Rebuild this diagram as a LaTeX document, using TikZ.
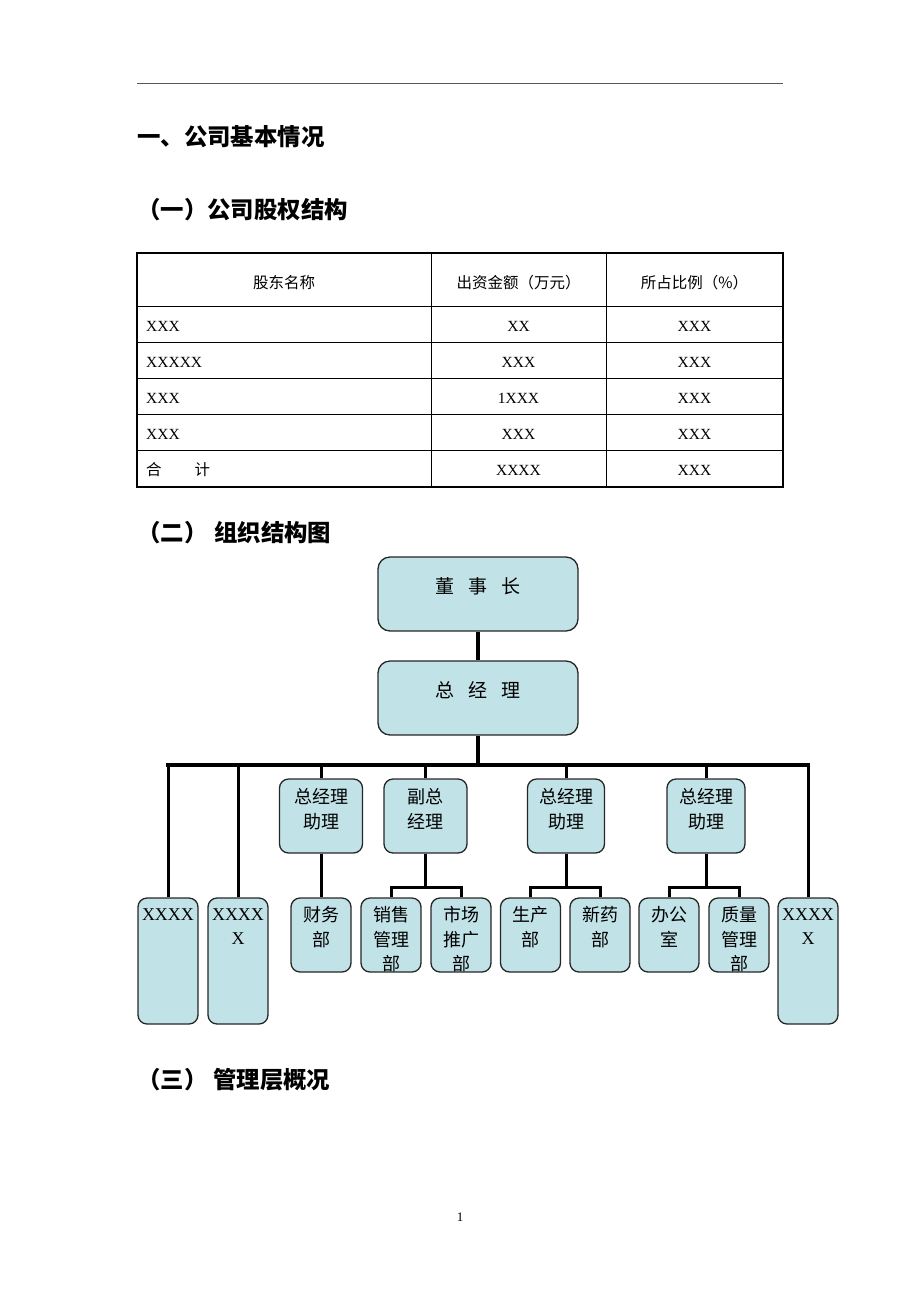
\documentclass[tikz,border=0pt]{standalone}
\usepackage{fontspec}
\setmainfont{Liberation Serif}
\newfontfamily\cjk{Noto Sans CJK SC}
\usetikzlibrary{calc}
\definecolor{boxfill}{HTML}{C1E2E6}
\begin{document}
\begin{tikzpicture}[x=1pt,y=-1pt,
  box/.style={draw=black!85, line width=1.3pt, fill=boxfill, rounded corners=9pt, inner sep=0pt},
  bigbox/.style={box, rounded corners=12pt, minimum width=200pt, minimum height=74pt},
  topbox/.style={box, minimum height=74pt},
  botbox/.style={box, minimum width=60pt, minimum height=74pt},
  tallbox/.style={box, minimum width=60pt, minimum height=126pt},
  lbl/.style={inner sep=0pt, align=center, anchor=north, font=\fontsize{18}{24.5}\selectfont},
  bigtxt/.style={inner sep=0pt, font=\cjk\fontsize{19}{19}\selectfont},
  head/.style={anchor=west, inner sep=0pt, font=\cjk\bfseries\fontsize{23.4}{23.4}\selectfont},
  cell/.style={inner sep=0pt, font=\fontsize{15.5}{15.5}\selectfont},
  conn/.style={line width=3pt},
  mainconn/.style={line width=4pt},
  busline/.style={line width=4pt, line cap=rect}]
\useasboundingbox (0,0) rectangle (920,1302);

% header rule
\draw[black!65, line width=1pt] (137,83) -- (783,83);

% headings
\node[head] (h1) at (137,137) {一、公司基本情况};
\node[head] (h2) at (137,210) {（一）公司股权结构};
\node[head] (h3) at (137,533) {（二）\hspace{7pt}组织结构图};
\node[head] (h4) at (137,1080) {（三）\hspace{6pt}管理层概况};

% table
\foreach \yy in {306,342,378,414,450} \draw[line width=1pt] (137,\yy) -- (783,\yy);
\foreach \xx in {431,606} \draw[line width=1pt] (\xx,253) -- (\xx,487);
\draw[line width=2.2pt] (137,253) rectangle (783,487);

\node[cell] (th1) at (284,283) {\cjk 股东名称};
\node[cell] (th2) at (518.5,283) {\cjk 出资金额（万元）};
\node[cell] (th3) at (694.5,283) {\cjk 所占比例（\%）};

\node[cell,anchor=west] (r1a) at (146,326) {XXX};
\node[cell] (r1b) at (518.5,326) {XX};
\node[cell] (r1c) at (694.5,326) {XXX};
\node[cell,anchor=west] (r2a) at (146,362) {XXXXX};
\node[cell] (r2b) at (518.5,362) {XXX};
\node[cell] (r2c) at (694.5,362) {XXX};
\node[cell,anchor=west] (r3a) at (146,398) {XXX};
\node[cell] (r3b) at (518.5,398) {1XXX};
\node[cell] (r3c) at (694.5,398) {XXX};
\node[cell,anchor=west] (r4a) at (146,434) {XXX};
\node[cell] (r4b) at (518.5,434) {XXX};
\node[cell] (r4c) at (694.5,434) {XXX};
\node[cell,anchor=west] (r5a) at (146,470) {\cjk 合\hspace{33pt}计};
\node[cell] (r5b) at (518.5,470) {XXXX};
\node[cell] (r5c) at (694.5,470) {XXX};

% org chart boxes
\node[bigbox] (dsz) at (478,594) {};
\node[bigtxt] (dszt) at (478,586) {董\hspace{14pt}事\hspace{14pt}长};
\node[bigbox] (zjl) at (478,698) {};
\node[bigtxt] (zjlt) at (478,690) {总\hspace{14pt}经\hspace{14pt}理};

\node[topbox, minimum width=83pt] (A) at (321,816) {};
\node[topbox, minimum width=83pt] (B) at (425.5,816) {};
\node[topbox, minimum width=77pt] (C) at (566,816) {};
\node[topbox, minimum width=78pt] (D) at (706,816) {};

\node[tallbox] (x1) at (168,961) {};
\node[tallbox] (x2) at (238,961) {};
\node[tallbox] (x3) at (808,961) {};

\node[botbox] (cw) at (321,935) {};
\node[botbox] (xs) at (391,935) {};
\node[botbox] (sc) at (461,935) {};
\node[botbox] (sp) at (530.5,935) {};
\node[botbox] (xy) at (600,935) {};
\node[botbox] (bg) at (669,935) {};
\node[botbox] (zl) at (739,935) {};

% labels
\node[lbl] (At) at ($(A.north)+(0,10)$) {\cjk 总经理\\\cjk 助理};
\node[lbl] (Bt) at ($(B.north)+(0,10)$) {\cjk 副总\\\cjk 经理};
\node[lbl] (Ct) at ($(C.north)+(0,10)$) {\cjk 总经理\\\cjk 助理};
\node[lbl] (Dt) at ($(D.north)+(0,10)$) {\cjk 总经理\\\cjk 助理};
\node[lbl] (x1t) at ($(x1.north)+(0,11)$) {XXXX};
\node[lbl] (x2t) at ($(x2.north)+(0,11)$) {XXXX\\X};
\node[lbl] (x3t) at ($(x3.north)+(0,11)$) {XXXX\\X};
\node[lbl] (cwt) at ($(cw.north)+(0,9)$) {\cjk 财务\\\cjk 部};
\node[lbl] (xst) at ($(xs.north)+(0,9)$) {\cjk 销售\\\cjk 管理\\\cjk 部};
\node[lbl] (sct) at ($(sc.north)+(0,9)$) {\cjk 市场\\\cjk 推广\\\cjk 部};
\node[lbl] (spt) at ($(sp.north)+(0,9)$) {\cjk 生产\\\cjk 部};
\node[lbl] (xyt) at ($(xy.north)+(0,9)$) {\cjk 新药\\\cjk 部};
\node[lbl] (bgt) at ($(bg.north)+(0,9)$) {\cjk 办公\\\cjk 室};
\node[lbl] (zlt) at ($(zl.north)+(0,9)$) {\cjk 质量\\\cjk 管理\\\cjk 部};

% connectors
\coordinate (bus) at (478,765);
\coordinate (sub) at (0,887);
\draw[mainconn] (dsz.south) -- (zjl.north);
\draw[mainconn] (zjl.south) -- (bus);
\draw[busline] (x1.north |- bus) -- (x3.north |- bus);
\foreach \n in {x1,x2,x3,A,B,C,D} \draw[conn] (\n.north |- bus) -- (\n.north);
\draw[conn] (A.south) -- (cw.north);
\draw[conn] (B.south) -- (B.south |- sub);
\draw[conn, line join=miter] (xs.north) -- (xs.north |- sub) -- (sc.north |- sub) -- (sc.north);
\draw[conn] (C.south) -- (C.south |- sub);
\draw[conn, line join=miter] (sp.north) -- (sp.north |- sub) -- (xy.north |- sub) -- (xy.north);
\draw[conn] (D.south) -- (D.south |- sub);
\draw[conn, line join=miter] (bg.north) -- (bg.north |- sub) -- (zl.north |- sub) -- (zl.north);

% page number
\node[inner sep=0pt, font=\fontsize{13}{13}\selectfont] (pg) at (460,1217) {1};
\end{tikzpicture}
\end{document}
